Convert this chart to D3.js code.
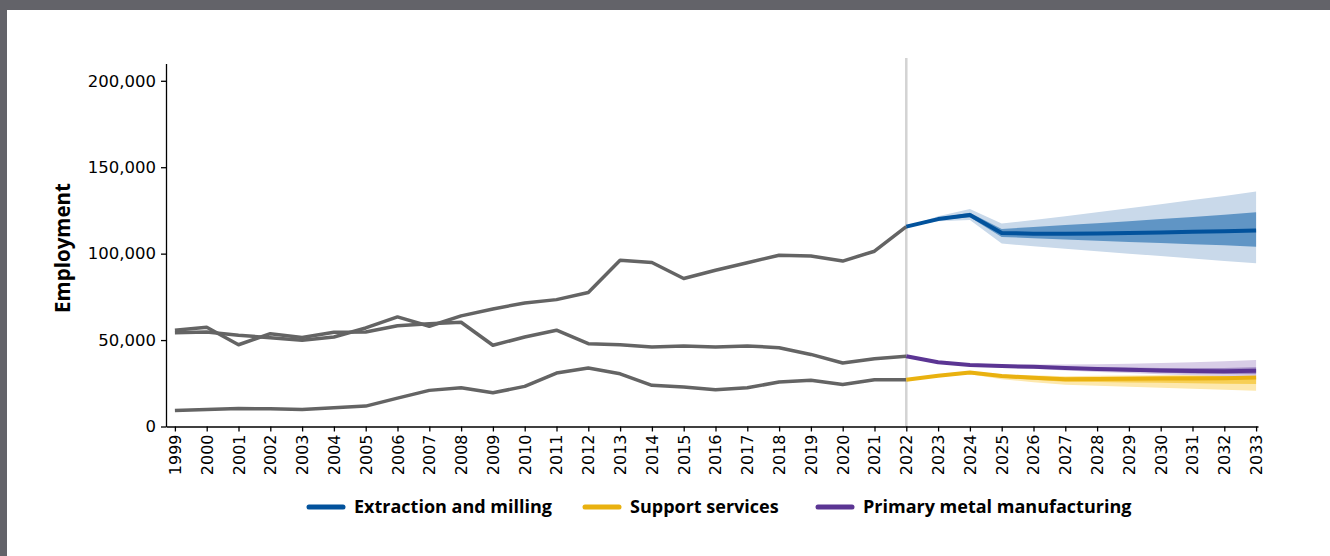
<!DOCTYPE html>
<html>
<head>
<meta charset="utf-8">
<script src="https://cdn.jsdelivr.net/npm/d3@7"></script>
<style>
  body { margin: 0; background: #ffffff; }
  svg { display: block; }
</style>
</head>
<body>
<figure id="chart" style="margin:0"></figure>
<script>
// data, in thousands of jobs
const years = [1999, 2000, 2001, 2002, 2003, 2004, 2005, 2006, 2007, 2008, 2009, 2010, 2011, 2012, 2013, 2014, 2015, 2016, 2017,
  2018, 2019, 2020, 2021, 2022, 2023, 2024, 2025, 2026, 2027, 2028, 2029, 2030, 2031, 2032, 2033];
const histYears = [1999, 2000, 2001, 2002, 2003, 2004, 2005, 2006, 2007, 2008, 2009, 2010, 2011, 2012, 2013, 2014, 2015, 2016, 2017,
  2018, 2019, 2020, 2021, 2022];
const fcYears = [2022, 2023, 2024, 2025, 2026, 2027, 2028, 2029, 2030, 2031, 2032, 2033];

const extractionHist = [54.3, 54.7, 52.8, 51.4, 49.9, 51.8, 57.0, 63.4, 58.0, 64.0, 68.0, 71.5, 73.4, 77.5, 96.2, 94.9, 85.6, 90.4, 94.7, 99.1, 98.6, 95.7, 101.4, 115.6];
const primaryHist = [55.7, 57.4, 47.3, 53.7, 51.5, 54.5, 54.7, 58.3, 59.5, 60.3, 47.0, 51.8, 55.7, 47.9, 47.3, 46.0, 46.6, 46.0, 46.6, 45.6, 41.7, 36.7, 39.2, 40.6];
const supportHist = [9.3, 9.9, 10.4, 10.2, 9.9, 10.8, 11.8, 16.4, 20.9, 22.4, 19.5, 23.2, 30.9, 33.8, 30.5, 23.8, 22.8, 21.3, 22.4, 25.7, 26.7, 24.3, 27.1, 27.1];

const extractionFc = [115.6, 120.0, 122.3, 112.0, 111.5, 111.5, 111.7, 112.0, 112.3, 112.7, 113.0, 113.4];
const extractionDarkLo = [115.6, 119.4, 121.0, 109.7, 108.9, 108.2, 107.5, 106.8, 106.2, 105.5, 104.8, 104.0];
const extractionDarkHi = [115.6, 120.6, 123.6, 114.3, 115.4, 116.5, 117.6, 118.8, 120.0, 121.2, 122.5, 124.0];
const extractionLightLo = [115.6, 118.7, 119.4, 105.8, 104.3, 102.8, 101.4, 100.0, 98.6, 97.2, 95.8, 94.5];
const extractionLightHi = [115.6, 121.7, 125.8, 117.4, 119.5, 121.7, 124.0, 126.3, 128.6, 131.0, 133.4, 136.0];

const supportFc = [27.1, 29.3, 31.2, 29.2, 28.2, 27.4, 27.5, 27.6, 27.7, 27.8, 27.9, 28.4];
const supportDarkLo = [27.1, 29.1, 30.8, 28.4, 27.0, 25.9, 25.7, 25.5, 25.3, 25.0, 24.8, 24.6];
const supportDarkHi = [27.1, 29.5, 31.6, 29.8, 29.0, 28.4, 28.6, 28.8, 29.0, 29.2, 29.4, 29.8];
const supportLightLo = [27.1, 28.8, 30.2, 27.4, 25.6, 24.2, 23.6, 23.0, 22.4, 21.8, 21.2, 20.7];
const supportLightHi = [27.1, 29.7, 32.0, 30.2, 29.6, 29.1, 29.3, 29.5, 29.7, 29.9, 30.1, 30.4];

const primaryFc = [40.6, 37.2, 35.6, 35.0, 34.5, 33.8, 33.2, 32.8, 32.4, 32.1, 32.0, 32.2];
const primaryDarkLo = [40.6, 37.0, 35.3, 34.6, 34.0, 33.2, 32.4, 31.8, 31.2, 30.7, 30.3, 30.2];
const primaryDarkHi = [40.6, 37.4, 35.9, 35.4, 35.1, 34.6, 34.3, 34.1, 33.9, 33.8, 33.9, 34.3];
const primaryLightLo = [40.6, 36.8, 35.0, 34.2, 33.4, 32.4, 31.6, 30.9, 30.2, 29.6, 29.2, 28.9];
const primaryLightHi = [40.6, 37.6, 36.2, 35.8, 35.8, 35.8, 36.0, 36.3, 36.7, 37.2, 37.8, 38.5];

const yTicks = [0, 50000, 100000, 150000, 200000];
const seriesNames = ["Extraction and milling", "Support services", "Primary metal manufacturing"];

const width = 1330;
const height = 556;
const grey = "#646464";

const svg = d3.select("figure#chart")
  .append("svg")
  .attr("width", width)
  .attr("height", height);

// page frame
svg.append("rect").attr("x", 0).attr("y", 0).attr("width", width).attr("height", 10).attr("fill", "#636369");
svg.append("rect").attr("x", 0).attr("y", 0).attr("width", 7).attr("height", height).attr("fill", "#636369");

const x = d3.scaleLinear()
  .domain([1998.72, 2033.06])
  .range([166, 1258]);

const y = d3.scaleLinear()
  .domain([0, 210000])
  .range([426.5, 63.5]);

// 2022 divider
svg.append("line")
  .attr("x1", x(2022)).attr("x2", x(2022))
  .attr("y1", 58).attr("y2", y(0))
  .attr("stroke", "#d3d3d3")
  .attr("stroke-width", 2.5);

const area = (lo, hi) => d3.area()
  .x((d, i) => x(fcYears[i]))
  .y0((d, i) => y(lo[i] * 1000))
  .y1((d, i) => y(hi[i] * 1000))(fcYears);

const line = (yrs, vals) => d3.line()
  .x((d, i) => x(yrs[i]))
  .y((d, i) => y(vals[i] * 1000))(yrs);

const bands = [
  { lo: supportLightLo, hi: supportLightHi, fill: "#fde8ad" },
  { lo: supportDarkLo, hi: supportDarkHi, fill: "#f7cf55" },
  { lo: primaryLightLo, hi: primaryLightHi, fill: "#d8cde7" },
  { lo: primaryDarkLo, hi: primaryDarkHi, fill: "#a18bc4" },
  { lo: extractionLightLo, hi: extractionLightHi, fill: "#c9d9ea" },
  { lo: extractionDarkLo, hi: extractionDarkHi, fill: "#6095c5" }
];

svg.append("g")
  .selectAll("path")
  .data(bands)
  .enter()
  .append("path")
    .attr("d", d => area(d.lo, d.hi))
    .attr("fill", d => d.fill);

// history in grey
svg.append("g")
  .selectAll("path")
  .data([extractionHist, primaryHist, supportHist])
  .enter()
  .append("path")
    .attr("d", d => line(histYears, d))
    .attr("fill", "none")
    .attr("stroke", grey)
    .attr("stroke-width", 3.5)
    .attr("stroke-linejoin", "round");

const colors = ["#02529c", "#e9b10f", "#5b3593"];

svg.append("g")
  .selectAll("path")
  .data([supportFc, primaryFc, extractionFc])
  .enter()
  .append("path")
    .attr("d", d => line(fcYears, d))
    .attr("fill", "none")
    .attr("stroke", (d, i) => [colors[1], colors[2], colors[0]][i])
    .attr("stroke-width", 4)
    .attr("stroke-linejoin", "round");

// axes
const yAxis = svg.append("g")
  .attr("transform", "translate(166,0)")
  .call(d3.axisLeft(y).tickValues(yTicks).tickSize(5).tickSizeOuter(0).tickPadding(5)
    .tickFormat(d3.format(",")));
yAxis.selectAll("text")
  .style("font", "16.5px 'DejaVu Sans'")
  .attr("fill", "#000");

const xAxis = svg.append("g")
  .attr("transform", "translate(0," + y(0) + ")")
  .call(d3.axisBottom(x).tickValues(years).tickSize(5).tickSizeOuter(0).tickFormat(d3.format("d")));
xAxis.selectAll("text")
  .style("font", "16px 'DejaVu Sans'")
  .attr("fill", "#000")
  .attr("text-anchor", "end")
  .attr("dy", null)
  .attr("y", 0)
  .attr("transform", "translate(0,8) rotate(-90)")
  .attr("dx", 0)
  .attr("dominant-baseline", "central");

svg.selectAll(".domain, .tick line").attr("stroke", "#000").attr("stroke-width", 1.3);

svg.append("text")
  .style("font", "bold 20.5px 'Open Sans'")
  .attr("text-anchor", "middle")
  .attr("transform", "translate(70,248) rotate(-90)")
  .text("Employment");

// legend
const legendX = [307, 583, 816];
const legend = svg.append("g")
  .selectAll("g")
  .data(seriesNames)
  .enter()
  .append("g")
    .attr("transform", (d, i) => "translate(" + legendX[i] + ",507)");

legend.append("line")
  .attr("x1", 2).attr("x2", 36)
  .attr("stroke", (d, i) => colors[i])
  .attr("stroke-width", 5)
  .attr("stroke-linecap", "round");

legend.append("text")
  .attr("x", 47)
  .attr("dy", "0.35em")
  .style("font", "bold 18px 'Open Sans'")
  .text(d => d);
</script>
</body>
</html>
